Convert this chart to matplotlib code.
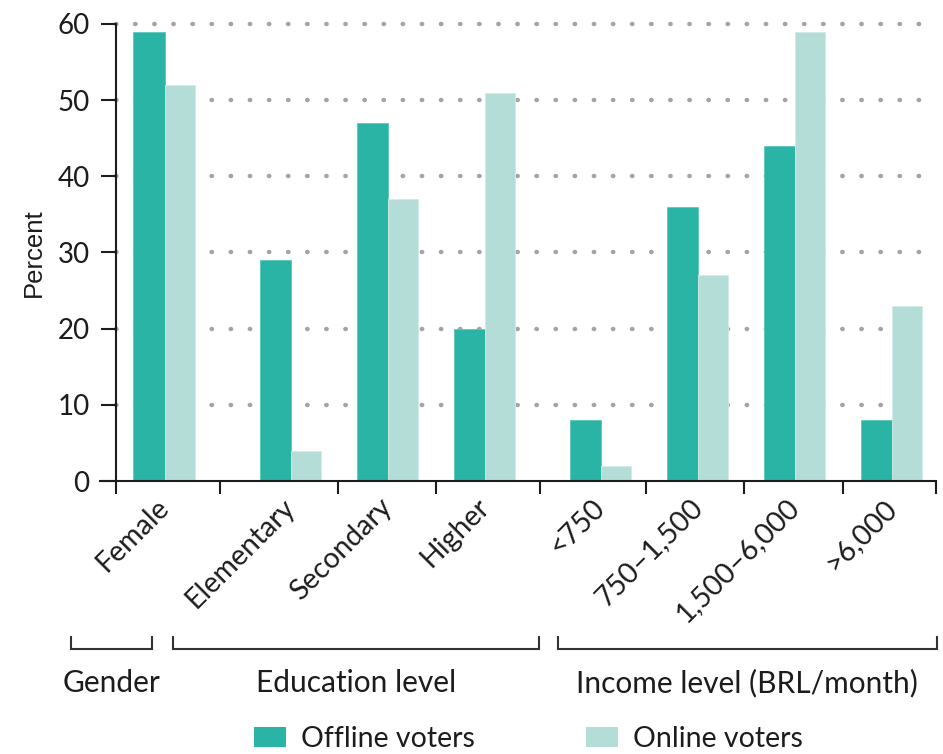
import matplotlib
matplotlib.use("Agg")
import matplotlib.pyplot as plt
from matplotlib.patches import Patch
from matplotlib.transforms import blended_transform_factory
import numpy as np

plt.rcParams['font.family'] = ['Lato', 'DejaVu Sans']

# --- data -----------------------------------------------------------------
categories = ['Female', 'Elementary', 'Secondary', 'Higher',
              '<750', '750–1,500', '1,500–6,000', '>6,000']
offline_voters = [59, 29, 47, 20, 8, 36, 44, 8]
online_voters = [52, 4, 37, 51, 2, 27, 59, 23]
series_names = ['Offline voters', 'Online voters']
group_names = ['Gender', 'Education level', 'Income level (BRL/month)']
y_ticks = [0, 10, 20, 30, 40, 50, 60]

# --- layout ---------------------------------------------------------------
centers = np.array([0.5, 1.8, 2.8, 3.8, 5.0, 6.0, 7.0, 8.0])
boundaries = [0, 1.07, 2.29, 3.30, 4.37, 5.46, 6.47, 7.49, 8.45]
bar_w = 0.32
bracket_spans = [(-0.46, 0.37), (0.59, 4.36), (4.55, 8.46)]

c_off = '#2ab4a6'
c_on = '#b4ddd7'
ink = '#1c1c1c'

fig = plt.figure(figsize=(9.43, 7.54), dpi=100)
ax = fig.add_axes([116 / 943, 273 / 754, 820 / 943, 457 / 754])

ax.bar(centers, offline_voters, width=-bar_w, align='edge', color=c_off,
       edgecolor='#5cc7bb', linewidth=0.6, zorder=2)
ax.bar(centers, online_voters, width=bar_w - 0.01, align='edge', color=c_on,
       edgecolor='#d0ebe7', linewidth=0.6, zorder=2)

# dotted horizontal guides
for yv in y_ticks[1:]:
    ax.axhline(yv, color='#a3a3a8', lw=3.2, ls=(0, (0.1, 4.2)),
               dash_capstyle='round', zorder=1, clip_on=False)

ax.set_xlim(boundaries[0], boundaries[-1])
ax.set_ylim(0, 60)

for s in ('top', 'right'):
    ax.spines[s].set_visible(False)
for s in ('left', 'bottom'):
    ax.spines[s].set_linewidth(1.5)
    ax.spines[s].set_color(ink)
ax.spines['bottom'].set_bounds(-0.16, boundaries[-1])

ax.set_yticks(y_ticks)
ax.tick_params(axis='y', direction='out', length=11, width=1.5, pad=8,
               labelsize=20, colors=ink)

ax.set_xticks(centers)
ax.set_xticklabels(categories, rotation=45, ha='right', va='center',
                   rotation_mode='anchor', fontsize=20.5, color=ink)
ax.tick_params(axis='x', which='major', length=0, pad=16)
ax.set_xticks(boundaries, minor=True)
ax.tick_params(axis='x', which='minor', direction='out', length=9,
               width=1.5, color=ink)

ax.set_ylabel('Percent', fontfamily='Liberation Sans', fontsize=18.5,
              color=ink)
ax.yaxis.set_label_coords(-0.085, 0.5)

# group brackets below the category labels
tr = blended_transform_factory(ax.transData, fig.transFigure)
y_line = 1 - 649 / 754
y_top = 1 - 637 / 754
y_text = 1 - 683 / 754
for (x0, x1), name in zip(bracket_spans, group_names):
    ax.plot([x0, x0, x1, x1], [y_top, y_line, y_line, y_top], transform=tr,
            color='#333333', lw=1.5, clip_on=False, solid_joinstyle='miter')
    ax.text((x0 + x1) / 2, y_text, name, transform=tr, ha='center',
            va='center', fontsize=21.5, color=ink)

handles = [Patch(facecolor=c_off, edgecolor='none'),
           Patch(facecolor=c_on, edgecolor='none')]
fig.legend(handles, series_names, loc='center', bbox_to_anchor=(0.56, 0.02),
           ncol=2, frameon=False, fontsize=20.5, handlelength=1.15,
           handleheight=0.7, handletextpad=0.5, columnspacing=3.9,
           borderpad=0, labelcolor=ink)

fig.savefig('out.png', dpi=100)
